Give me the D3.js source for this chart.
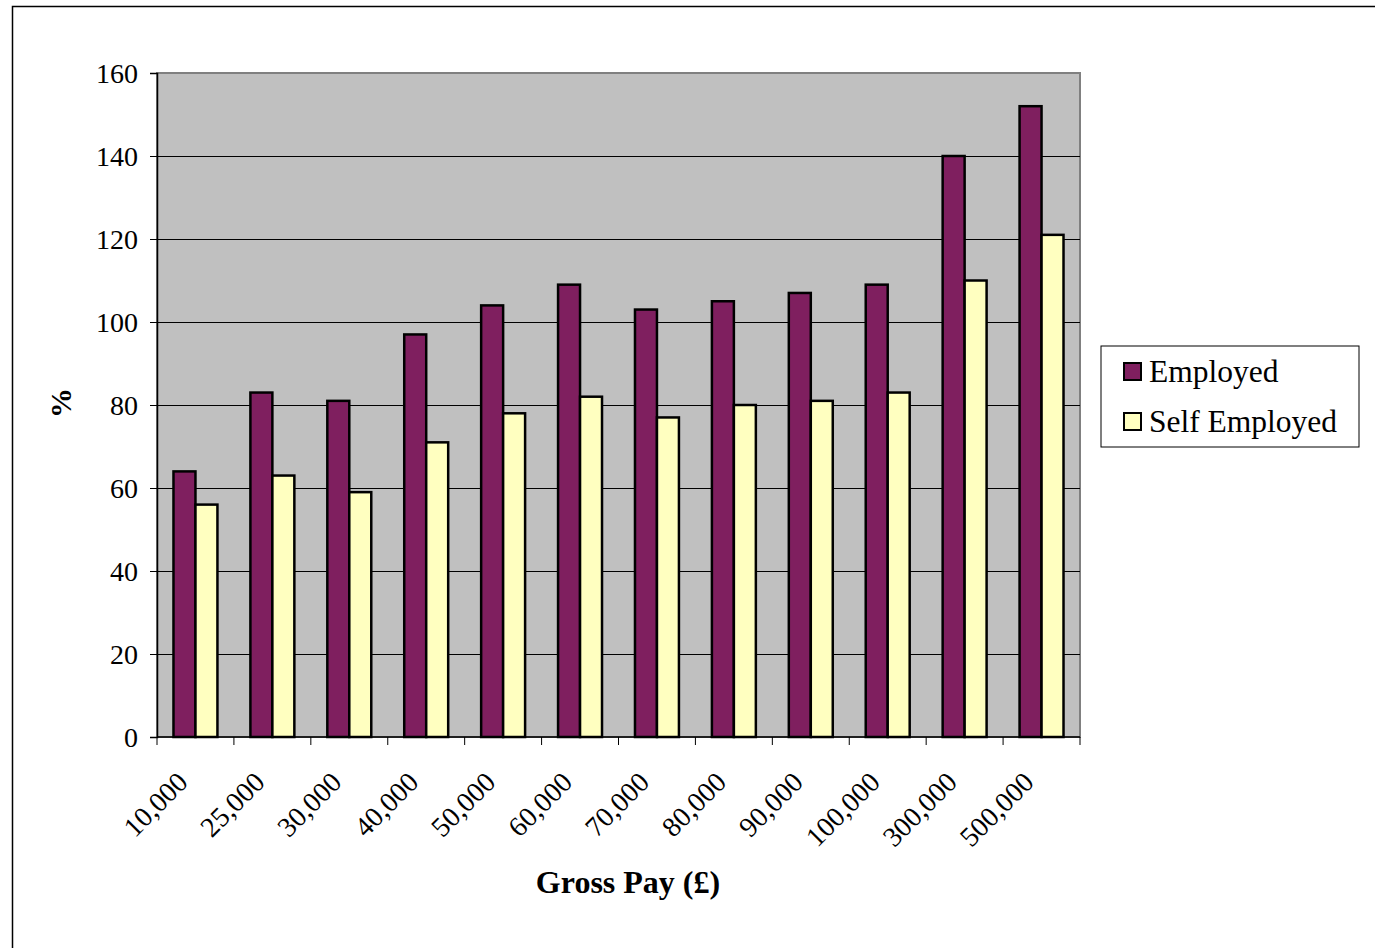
<!DOCTYPE html>
<html><head><meta charset="utf-8">
<script src="https://cdn.jsdelivr.net/npm/d3@7"></script>
<style>body{margin:0;background:#fff}svg{display:block}text{font-family:"Liberation Serif","Times New Roman",serif;fill:#000}</style>
</head><body><svg id="c" width="1375" height="948"></svg>
<script>
const categories = ["10,000","25,000","30,000","40,000","50,000","60,000","70,000","80,000","90,000","100,000","300,000","500,000"];
const employed = [64,83,81,97,104,109,103,105,107,109,140,152];
const selfEmployed = [56,63,59,71,78,82,77,80,81,83,110,121];
const seriesNames = ["Employed","Self Employed"];
const seriesColors = ["#7f1f5f","#ffffc0"];
const yTicks = [0,20,40,60,80,100,120,140,160];

const svg = d3.select("#c");
const L=157,R=1080,T=73,B=737;
svg.append("rect").attr("x",12.5).attr("y",6.5).attr("width",1400).attr("height",1000).attr("fill","#fff").attr("stroke","#000").attr("stroke-width",1.5);

const x = d3.scaleBand().domain(categories).range([L,R]);
const inner = d3.scaleBand().domain(seriesNames).range([0,x.bandwidth()]).paddingInner(0).paddingOuter(0.75);
const y = d3.scaleLinear().domain([0,160]).range([B,T]);

svg.append("rect").attr("x",L).attr("y",T).attr("width",R-L).attr("height",B-T).attr("fill","#c0c0c0").attr("stroke","#808080").attr("stroke-width",2);

// gridlines
svg.append("g").selectAll("line").data(yTicks.filter(d=>d>0&&d<160)).join("line")
 .attr("x1",L).attr("x2",R).attr("y1",d=>Math.round(y(d))+0.5).attr("y2",d=>Math.round(y(d))+0.5).attr("stroke","#000").attr("stroke-width",1);

// bars
const data = categories.map((c,i)=>({c, v:[employed[i],selfEmployed[i]]}));
const g = svg.append("g");
data.forEach(d=>{
  seriesNames.forEach((s,j)=>{
    g.append("rect").attr("x",x(d.c)+inner(s)).attr("y",y(d.v[j])).attr("width",inner.bandwidth()).attr("height",B-y(d.v[j]))
     .attr("fill",seriesColors[j]).attr("stroke","#000").attr("stroke-width",2.5);
  });
});

// y axis
const ya = svg.append("g").attr("transform",`translate(${L},0)`).call(d3.axisLeft(y).tickValues(yTicks).tickSize(7).tickPadding(12));
ya.select(".domain").attr("stroke","#000").attr("stroke-width",1.5);
ya.selectAll(".tick line").attr("stroke","#000");
ya.selectAll("text").style("font-size","28px").style("font-family","Liberation Serif, serif").attr("dy","0.35em");

// x axis
const xa = svg.append("g").attr("transform",`translate(0,${B})`);
xa.append("line").attr("x1",L).attr("x2",R).attr("stroke","#000").attr("stroke-width",1.5);
xa.selectAll("line.t").data(d3.range(categories.length+1)).join("line").attr("class","t")
  .attr("x1",i=>L+i*x.step()).attr("x2",i=>L+i*x.step()).attr("y1",0).attr("y2",8).attr("stroke","#000");
xa.selectAll("text").data(categories).join("text")
  .attr("transform",d=>`translate(${x(d)+x.bandwidth()/2-13},${40}) rotate(-45)`)
  .attr("text-anchor","end").attr("dy","0.35em").style("font-size","28px").text(d=>d);

// axis titles
svg.append("text").attr("x",628).attr("y",893).attr("text-anchor","middle").style("font-size","32px").style("font-weight","bold").text("Gross Pay (£)");
svg.append("text").attr("transform","translate(71,403) rotate(-90)").attr("text-anchor","middle").style("font-size","30px").style("font-weight","bold").text("%");

// legend
const lg = svg.append("g");
lg.append("rect").attr("x",1101).attr("y",346).attr("width",258).attr("height",101).attr("fill","#fff").attr("stroke","#000").attr("stroke-width",1);
seriesNames.forEach((s,j)=>{
  const cy = 371 + j*50;
  lg.append("rect").attr("x",1124).attr("y",cy-8).attr("width",17).attr("height",17).attr("fill",seriesColors[j]).attr("stroke","#000").attr("stroke-width",2);
  lg.append("text").attr("x",1149).attr("y",cy).attr("dy","0.35em").style("font-size","31.5px").text(s);
});
</script></body></html>
